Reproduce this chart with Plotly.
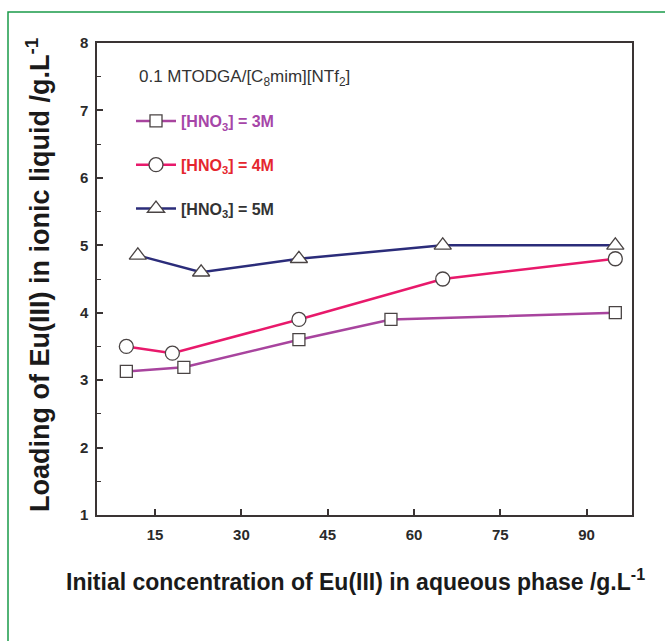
import plotly.graph_objects as go

# ---- data ----
x_3M = [10, 20, 40, 56, 95]
y_3M = [3.13, 3.19, 3.6, 3.9, 4.0]
x_4M = [10, 18, 40, 65, 95]
y_4M = [3.5, 3.4, 3.9, 4.5, 4.8]
x_5M = [12, 23, 40, 65, 95]
y_5M = [4.85, 4.6, 4.8, 5.0, 5.0]

names = ["[HNO<sub>3</sub>] = 3M", "[HNO<sub>3</sub>] = 4M", "[HNO<sub>3</sub>] = 5M"]
line_colors = ["#A8449E", "#E8196B", "#2B2C7A"]
label_colors = ["#A646A8", "#E5262E", "#333333"]
symbols = ["square", "circle", "triangle-up"]
xtick_vals = [15, 30, 45, 60, 75, 90]
ytick_vals = [1, 2, 3, 4, 5, 6, 7, 8]

W, H = 665, 641
L, R, T, B = 97, 33, 43, 126
pw, ph = W - L - R, H - T - B

def px_x(p):
    return (p - L) / pw

def px_y(p):
    return 1 - (p - T) / ph

FONT = "Liberation Sans, Arial"

fig = go.Figure()
series = [(x_3M, y_3M), (x_4M, y_4M), (x_5M, y_5M)]
sizes = [12, 14, 15]
for i, (xs, ys) in enumerate(series):
    fig.add_trace(go.Scatter(
        x=xs, y=ys, mode="lines+markers",
        name=f"<span style='color:{label_colors[i]}'><b>{names[i]}</b></span>",
        legendgroup=f"g{i}",
        line=dict(color=line_colors[i], width=2.5),
        marker=dict(symbol=symbols[i], size=sizes[i], color="white",
                    line=dict(color="#4a4444", width=1.3)),
    ))

axis_common = dict(
    showline=True, linecolor="#3a3434", linewidth=1.5, mirror=True,
    ticks="inside", tickcolor="#3a3434", tickwidth=1.5, ticklen=6,
    showgrid=False, zeroline=False,
    tickfont=dict(family=FONT, size=15, color="#2a2a2a", weight="bold"),
)

fig.update_xaxes(range=[4.9, 97.9], tickvals=xtick_vals, ticklabelstandoff=5, **axis_common)
fig.update_yaxes(range=[1, 8], tickvals=ytick_vals, ticklabelstandoff=4,
                 minor=dict(ticks="inside", dtick=0.5, ticklen=4, tickcolor="#3a3434", tickwidth=1.2),
                 **axis_common)

fig.add_annotation(
    text="0.1 MTODGA/[C<sub>8</sub>mim][NTf<sub>2</sub>]",
    xref="paper", yref="paper", x=px_x(137), y=px_y(78), xanchor="left", yanchor="middle",
    showarrow=False, font=dict(family=FONT, size=17, color="#333333"),
)
fig.add_annotation(
    text="Initial concentration of Eu(III) in aqueous phase /g.L<sup>-1</sup>",
    xref="paper", yref="paper", x=px_x(355), y=px_y(580), xanchor="center", yanchor="middle",
    showarrow=False, font=dict(family=FONT, size=23, color="#1a1a1a", weight="bold"),
)
fig.add_annotation(
    text="Loading of Eu(III) in ionic liquid /g.L<sup>-1</sup>",
    xref="paper", yref="paper", x=px_x(38), y=px_y(275), xanchor="center", yanchor="middle",
    textangle=-90,
    showarrow=False, font=dict(family=FONT, size=27, color="#1a1a1a", weight="bold"),
)

# green frame
fig.add_shape(type="rect", xref="paper", yref="paper",
              x0=px_x(8), x1=px_x(700), y0=px_y(700), y1=px_y(12),
              line=dict(color="#1A9A4A", width=1.5), layer="below")

fig.update_layout(
    width=W, height=H,
    margin=dict(l=L, r=R, t=T, b=B),
    paper_bgcolor="white", plot_bgcolor="white",
    showlegend=True,
    legend=dict(x=px_x(131), y=px_y(104), xanchor="left", yanchor="top",
                bgcolor="rgba(0,0,0,0)", tracegroupgap=20, itemwidth=40,
                font=dict(family=FONT, size=16)),
)

fig.write_html("out.html")
